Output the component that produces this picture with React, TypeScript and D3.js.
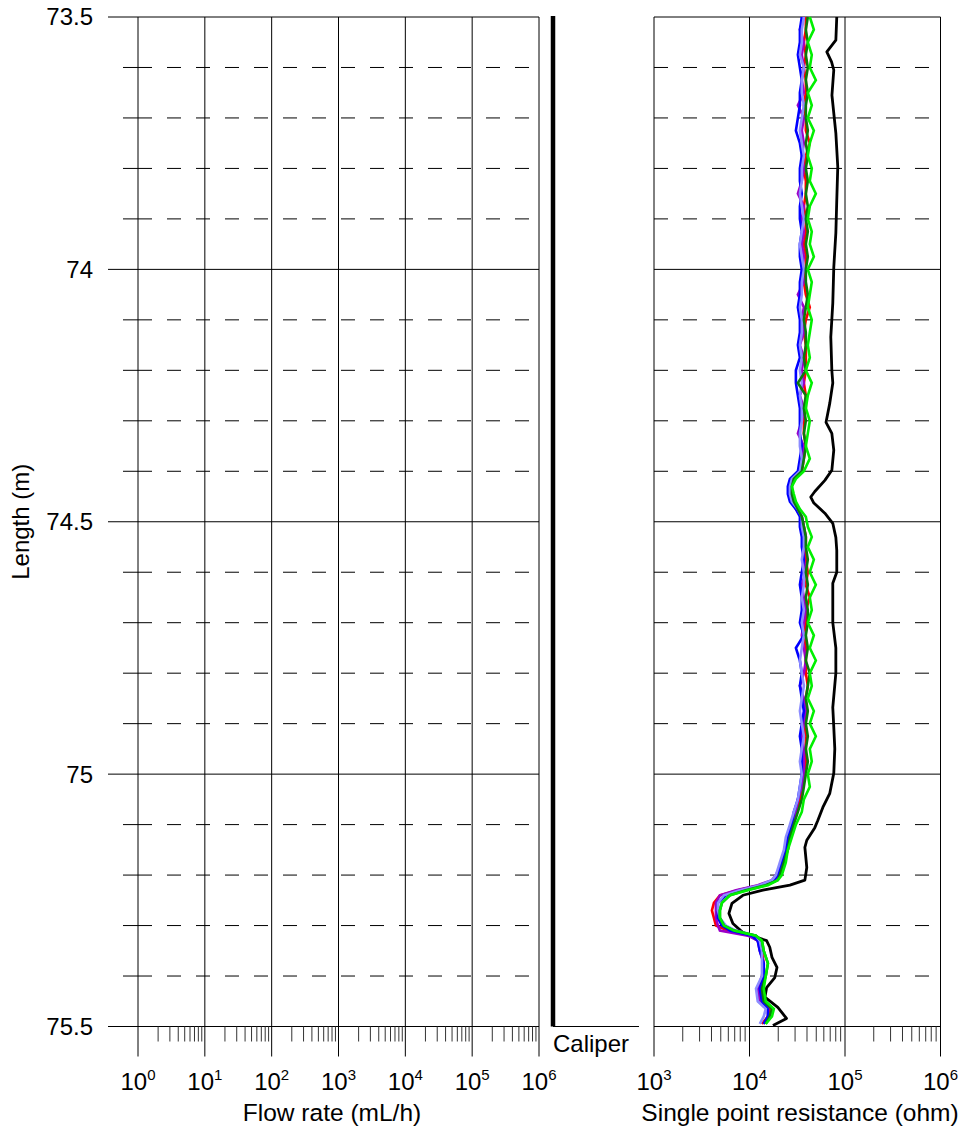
import React from "react";
import * as d3 from "d3";

const WIDTH = 967;
const HEIGHT = 1130;
const FONT = "'Liberation Sans', Arial, Helvetica, sans-serif";

// Depth axis (m)
const DEPTH_MAJOR = [73.5, 74, 74.5, 75, 75.5];
const DEPTH_MINOR = [73.6, 73.7, 73.8, 73.9, 74.1, 74.2, 74.3, 74.4, 74.6, 74.7, 74.8, 74.9, 75.1, 75.2, 75.3, 75.4];
const DEPTH_LABELS = ["73.5", "74", "74.5", "75", "75.5"];

// Decade exponents for the two log axes
const FLOW_EXPONENTS = [0, 1, 2, 3, 4, 5, 6];
const SPR_EXPONENTS = [3, 4, 5, 6];

// Shared sampling depths of the repeated single point resistance runs (m)
const DEPTH = [
  73.5, 73.525, 73.55, 73.575, 73.6, 73.625, 73.65, 73.675, 73.7, 73.725,
  73.75, 73.775, 73.8, 73.825, 73.85, 73.875, 73.9, 73.925, 73.95, 73.975,
  74.0, 74.025, 74.05, 74.075, 74.1, 74.125, 74.15, 74.175, 74.2, 74.225,
  74.25, 74.275, 74.3, 74.325, 74.35, 74.375, 74.4, 74.415, 74.43, 74.445,
  74.46, 74.475, 74.49, 74.51, 74.53, 74.55, 74.575, 74.6, 74.625, 74.65,
  74.675, 74.7, 74.725, 74.75, 74.775, 74.8, 74.825, 74.85, 74.875, 74.9,
  74.925, 74.95, 74.975, 75.0, 75.025, 75.05, 75.075, 75.1, 75.125, 75.15,
  75.175, 75.2, 75.21, 75.22, 75.23, 75.24, 75.255, 75.27, 75.285, 75.3,
  75.31, 75.32, 75.33, 75.35, 75.375, 75.4, 75.425, 75.45, 75.465, 75.48,
  75.495,
];

// Single point resistance runs (ohm)
const SPR_RED = [
  38900, 38900, 37100, 38900, 37100, 38900, 38900, 37100, 38900, 38900,
  42800, 38900, 37100, 38900, 38900, 37100, 38900, 38900, 37100, 38900,
  38900, 37100, 38900, 42800, 38900, 37100, 38900, 38900, 38900, 37100,
  38900, 38900, 37100, 37100, 38900, 37100, 35300, 29100, 26500, 26500,
  27800, 30600, 35300, 37100, 38900, 38900, 38900, 40800, 38900, 42800,
  38900, 38900, 37100, 38900, 38900, 38900, 40800, 38900, 38900, 37100,
  38900, 38900, 38900, 37100, 35300, 33700, 30600, 27800, 26500, 25200,
  21800, 19800, 18000, 12800, 7560, 4900, 4240, 4040, 4240, 4450,
  5940, 10100, 12200, 13500, 14100, 14100, 12800, 13500, 16300, 15600,
  13500,
];

const SPR_PURPLE = [
  37100, 33700, 37100, 35300, 37100, 35300, 37100, 32100, 37100, 35300,
  37100, 35300, 37100, 35300, 32100, 37100, 35300, 37100, 35300, 37100,
  35300, 37100, 32100, 37100, 35300, 37100, 33700, 37100, 35300, 37100,
  33700, 37100, 35300, 32100, 37100, 35300, 33700, 27800, 26500, 26500,
  27800, 32100, 35300, 37100, 38900, 37100, 37100, 38900, 35300, 37100,
  38900, 37100, 35300, 37100, 38900, 37100, 33700, 37100, 38900, 37100,
  35300, 37100, 37100, 37100, 35300, 32100, 30600, 27800, 25200, 24000,
  21800, 18900, 17200, 12200, 7210, 4900, 4450, 4450, 4450, 4670,
  4900, 9620, 12200, 12800, 14100, 13500, 12200, 12800, 15600, 15600,
  14100,
];

const SPR_BLUE = [
  35300, 33700, 33700, 32100, 33700, 35300, 33700, 33700, 32100, 30600,
  33700, 35300, 33700, 33700, 35300, 33700, 33700, 35300, 33700, 33700,
  35300, 33700, 33700, 32100, 33700, 33700, 32100, 33700, 30600, 30600,
  32100, 33700, 33700, 33700, 35300, 33700, 32100, 26500, 25200, 25200,
  26500, 30600, 33700, 33700, 35300, 35300, 37100, 35300, 33700, 35300,
  35300, 33700, 37100, 30600, 33700, 35300, 33700, 35300, 37100, 35300,
  33700, 35300, 35300, 35300, 33700, 32100, 29100, 27800, 25200, 24000,
  21800, 19800, 18000, 14100, 8740, 5660, 4670, 4670, 4670, 5140,
  6240, 10600, 12200, 12800, 14100, 14100, 12800, 13500, 15600, 15600,
  14100,
];

const SPR_LIGHT_BLUE = [
  37100, 35300, 35300, 33700, 37100, 35300, 35300, 37100, 35300, 33700,
  35300, 37100, 35300, 35300, 33700, 35300, 37100, 35300, 33700, 35300,
  37100, 35300, 35300, 33700, 35300, 35300, 33700, 35300, 33700, 35300,
  33700, 35300, 35300, 33700, 33700, 35300, 33700, 27800, 26500, 26500,
  27800, 32100, 35300, 35300, 37100, 37100, 35300, 37100, 37100, 35300,
  37100, 35300, 37100, 35300, 33700, 35300, 37100, 35300, 33700, 35300,
  37100, 35300, 33700, 35300, 33700, 32100, 29100, 26500, 24000, 22900,
  20800, 18900, 17200, 12800, 7940, 5400, 4670, 4670, 4900, 5660,
  7210, 11700, 12800, 13500, 13500, 13500, 11700, 12200, 14800, 14100,
  12800,
];

const SPR_DARK_GREEN = [
  40800, 38900, 40800, 38900, 40800, 38900, 40800, 38900, 38900, 40800,
  38900, 40800, 38900, 40800, 38900, 40800, 38900, 40800, 38900, 40800,
  38900, 38900, 40800, 38900, 37100, 38900, 38900, 37100, 38900, 32100,
  38900, 37100, 38900, 37100, 38900, 37100, 35300, 29100, 27800, 27800,
  29100, 32100, 35300, 37100, 38900, 38900, 40800, 38900, 40800, 38900,
  40800, 40800, 38900, 40800, 38900, 42800, 40800, 38900, 40800, 38900,
  40800, 38900, 40800, 38900, 37100, 35300, 32100, 29100, 26500, 25200,
  22900, 20800, 19800, 14800, 9170, 6240, 5140, 4900, 4900, 5400,
  6870, 11700, 13500, 14100, 15600, 14800, 13500, 14100, 17200, 16300,
  14800,
];

const SPR_GREEN = [
  42800, 47200, 40800, 44900, 42800, 49500, 40800, 44900, 40800, 47200,
  42800, 40800, 44900, 42800, 49500, 42800, 40800, 44900, 42800, 47200,
  40800, 44900, 42800, 40800, 44900, 42800, 40800, 42800, 38900, 44900,
  40800, 38900, 42800, 40800, 38900, 42800, 37100, 30600, 27800, 29100,
  30600, 33700, 38900, 40800, 44900, 40800, 47200, 42800, 49500, 42800,
  44900, 40800, 47200, 42800, 49500, 42800, 44900, 40800, 47200, 42800,
  49500, 42800, 44900, 40800, 42800, 37100, 35300, 30600, 27800, 25200,
  24000, 21800, 19800, 15600, 9620, 6240, 5140, 4900, 4900, 5400,
  6870, 11700, 13500, 14100, 15600, 14800, 14100, 14800, 18000, 17200,
  14800,
];

// Reference resistance log (ohm) with its own depths (m)
const REF_DEPTH = [
  73.5, 73.546, 73.569, 73.589, 73.605, 73.655, 73.73, 73.797, 73.863, 73.928,
  73.996, 74.067, 74.134, 74.2, 74.225, 74.265, 74.303, 74.325, 74.358, 74.398,
  74.418, 74.44, 74.451, 74.463, 74.483, 74.503, 74.531, 74.557, 74.6, 74.622,
  74.7, 74.75, 74.8, 74.868, 74.907, 74.95, 74.998, 75.038, 75.066, 75.092,
  75.106, 75.131, 75.145, 75.185, 75.21, 75.22, 75.23, 75.24, 75.256, 75.276,
  75.296, 75.314, 75.33, 75.343, 75.363, 75.383, 75.403, 75.423, 75.442, 75.462,
  75.484, 75.498,
];
const SPR_REF = [
  82000, 80200, 64500, 72300, 76300, 73000, 80200, 84000, 82000, 80200,
  76300, 74500, 71000, 72800, 74500, 69300, 63300, 72800, 76300, 72800,
  61500, 48300, 43800, 47200, 61500, 74500, 80200, 82000, 82000, 74500,
  74500, 80200, 80200, 74500, 76300, 78200, 76300, 69300, 58600, 51900,
  48300, 39800, 38000, 39800, 38000, 26500, 13800, 8530, 6550, 6090,
  6700, 8530, 15100, 16300, 17200, 19400, 18400, 15100, 14500, 19800,
  24400, 17600,
];

const RUNS = [
  { name: "red", color: "#ff0000", values: SPR_RED },
  { name: "purple", color: "#9c00c8", values: SPR_PURPLE },
  { name: "blue", color: "#0000ff", values: SPR_BLUE },
  { name: "lightblue", color: "#8c8cff", values: SPR_LIGHT_BLUE },
  { name: "darkgreen", color: "#0a7a0a", values: SPR_DARK_GREEN },
  { name: "green", color: "#00f000", values: SPR_GREEN },
];

// Layout
const Y_TOP = 17;
const Y_BOTTOM = 1026.5;
const FLOW_LEFT = 138;
const FLOW_RIGHT = 539;
const CAL_X = 553;
const CAL_RIGHT = 639;
const SPR_LEFT = 654;
const SPR_RIGHT = 940.5;

const y = d3.scaleLinear().domain([73.5, 75.5]).range([Y_TOP, Y_BOTTOM]);
const xFlow = d3.scaleLog().domain([1, 1e6]).range([FLOW_LEFT, FLOW_RIGHT]);
const xSpr = d3.scaleLog().domain([1e3, 1e6]).range([SPR_LEFT, SPR_RIGHT]);

function minorValues(exps: number[]): number[] {
  const out: number[] = [];
  for (let i = 0; i < exps.length - 1; i++) {
    for (let k = 2; k <= 9; k++) out.push(k * Math.pow(10, exps[i]));
  }
  return out;
}

const MAJOR_TICK_LEN = 30;
const MINOR_TICK_LEN = 15;

function Panel({
  x,
  exps,
  left,
  right,
  title,
  titleX,
  leftTicks,
}: {
  x: d3.ScaleLogarithmic<number, number>;
  exps: number[];
  left: number;
  right: number;
  title: string;
  titleX: number;
  leftTicks: boolean;
}) {
  const minors = minorValues(exps);
  return (
    <g>
      {/* dashed 0.1 m grid */}
      {DEPTH_MINOR.map((d) => (
        <g key={`m${d}`}>
          {leftTicks && (
            <line x1={left - MINOR_TICK_LEN} x2={left} y1={y(d)} y2={y(d)} stroke="#000" strokeWidth={1} />
          )}
          <line
            x1={left}
            x2={right}
            y1={y(d)}
            y2={y(d)}
            stroke="#000"
            strokeWidth={1}
            strokeDasharray="14 15"
          />
        </g>
      ))}
      {/* solid 0.5 m grid */}
      {DEPTH_MAJOR.map((d) => (
        <line
          key={`M${d}`}
          x1={leftTicks ? left - MAJOR_TICK_LEN : left}
          x2={right}
          y1={y(d)}
          y2={y(d)}
          stroke="#000"
          strokeWidth={1}
        />
      ))}
      {/* decade lines, extended below the bottom as major ticks */}
      {exps.map((e) => (
        <line
          key={`e${e}`}
          x1={x(Math.pow(10, e))}
          x2={x(Math.pow(10, e))}
          y1={Y_TOP}
          y2={Y_BOTTOM + MAJOR_TICK_LEN}
          stroke="#000"
          strokeWidth={1}
        />
      ))}
      {minors.map((v) => (
        <line
          key={`n${v}`}
          x1={x(v)}
          x2={x(v)}
          y1={Y_BOTTOM}
          y2={Y_BOTTOM + MINOR_TICK_LEN}
          stroke="#333"
          strokeWidth={1}
        />
      ))}
      {exps.map((e) => (
        <text
          key={`t${e}`}
          x={x(Math.pow(10, e))}
          y={1090}
          textAnchor="middle"
          fontFamily={FONT}
          fontSize={24}
          fill="#000"
        >
          10
          <tspan fontSize={15} dy={-10}>
            {e}
          </tspan>
        </text>
      ))}
      <text x={titleX} y={1121} textAnchor="middle" fontFamily={FONT} fontSize={24.5} fill="#000">
        {title}
      </text>
    </g>
  );
}

export default function App() {
  const runLine = d3
    .line<number>()
    .x((v) => xSpr(v))
    .y((_, i) => y(DEPTH[i]))
    .curve(d3.curveLinear);
  const refLine = d3
    .line<number>()
    .x((v) => xSpr(v))
    .y((_, i) => y(REF_DEPTH[i]))
    .curve(d3.curveLinear);

  return (
    <svg
      width={WIDTH}
      height={HEIGHT}
      viewBox={`0 0 ${WIDTH} ${HEIGHT}`}
      style={{ position: "absolute", left: 0, top: 0, background: "#fff" }}
    >
      <rect x={0} y={0} width={WIDTH} height={HEIGHT} fill="#fff" />

      {/* Depth labels */}
      {DEPTH_MAJOR.map((d, i) => (
        <text
          key={`yl${d}`}
          x={93}
          y={y(d)}
          dy="0.35em"
          textAnchor="end"
          fontFamily={FONT}
          fontSize={24}
          fill="#000"
        >
          {DEPTH_LABELS[i]}
        </text>
      ))}
      <text
        transform={`translate(29, ${(Y_TOP + Y_BOTTOM) / 2}) rotate(-90)`}
        textAnchor="middle"
        fontFamily={FONT}
        fontSize={24}
        fill="#000"
      >
        Length (m)
      </text>

      <Panel
        x={xFlow}
        exps={FLOW_EXPONENTS}
        left={FLOW_LEFT}
        right={FLOW_RIGHT}
        title="Flow rate (mL/h)"
        titleX={332}
        leftTicks={true}
      />

      {/* Caliper track */}
      <line x1={CAL_X} x2={CAL_X} y1={Y_TOP - 1} y2={Y_BOTTOM} stroke="#000" strokeWidth={4.5} />
      <line x1={CAL_X} x2={CAL_RIGHT} y1={Y_BOTTOM} y2={Y_BOTTOM} stroke="#000" strokeWidth={1} />
      <text x={553} y={1052} fontFamily={FONT} fontSize={24} fill="#000">
        Caliper
      </text>

      <Panel
        x={xSpr}
        exps={SPR_EXPONENTS}
        left={SPR_LEFT}
        right={SPR_RIGHT}
        title="Single point resistance (ohm)"
        titleX={800}
        leftTicks={false}
      />

      {/* Resistance logs */}
      <path d={refLine(SPR_REF) ?? ""} fill="none" stroke="#000" strokeWidth={2.8} strokeLinejoin="round" />
      {RUNS.map((r) => (
        <path
          key={r.name}
          d={runLine(r.values) ?? ""}
          fill="none"
          stroke={r.color}
          strokeWidth={2.6}
          strokeLinejoin="miter"
        />
      ))}
    </svg>
  );
}
